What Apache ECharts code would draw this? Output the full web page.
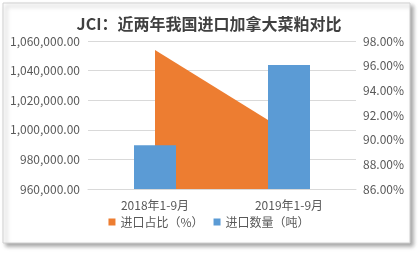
<!DOCTYPE html>
<html>
<head>
<meta charset="utf-8">
<script src="https://cdn.jsdelivr.net/npm/echarts@6/dist/echarts.min.js"></script>
<style>html,body{margin:0;padding:0;background:#fff;}#c{width:418px;height:253px;}</style>
</head>
<body>
<div id="c"></div>
<script>
var titleText = 'JCI：近两年我国进口加拿大菜粕对比';
var categories = ['2018年1-9月', '2019年1-9月'];
var shareName = '进口占比（%）';
var qtyName = '进口数量（吨）';
var shareValues = [97.27, 90.55];
var qtyValues = [989500, 1043800];
var leftTicks = [960000, 1060000, 20000];
var rightTicks = [86, 98, 2];

var chart = echarts.init(document.getElementById('c'), null, {renderer: 'canvas'});
var font = "'Noto Sans CJK SC', 'Microsoft YaHei', sans-serif";
chart.setOption({
  animation: false,
  textStyle: {fontFamily: font},
  graphic: [{
    type: 'rect', z: -10,
    shape: {x: 3, y: 3, width: 407, height: 240},
    style: {fill: '#fff', stroke: '#d0d0d0', lineWidth: 1, shadowBlur: 4, shadowOffsetX: 3, shadowOffsetY: 3, shadowColor: 'rgba(0,0,0,0.35)'}
  }],
  title: {
    text: titleText, left: 'center', top: 11,
    textStyle: {fontSize: 16, fontWeight: 'bold', color: '#404040', fontFamily: font}
  },
  legend: {
    bottom: 20, left: 'center', itemWidth: 7, itemHeight: 7, itemGap: 10, icon: 'rect',
    textStyle: {fontSize: 12, color: '#595959', fontFamily: font},
    data: [shareName, qtyName]
  },
  grid: {left: 88, right: 62, top: 41, bottom: 64},
  xAxis: {
    type: 'category', data: categories, boundaryGap: true,
    axisLine: {show: true, lineStyle: {color: '#d9d9d9'}},
    axisTick: {show: false},
    axisLabel: {fontSize: 12, color: '#595959', margin: 10, fontFamily: font}
  },
  yAxis: [{
    type: 'value', min: leftTicks[0], max: leftTicks[1], interval: leftTicks[2],
    axisLine: {show: false}, axisTick: {show: false},
    splitLine: {lineStyle: {color: '#d9d9d9'}},
    axisLabel: {fontSize: 12, color: '#595959', margin: 8, fontFamily: font,
      formatter: function (v) { return v.toLocaleString('en-US', {minimumFractionDigits: 2, maximumFractionDigits: 2}); }}
  }, {
    type: 'value', min: rightTicks[0], max: rightTicks[1], interval: rightTicks[2],
    axisLine: {show: false}, axisTick: {show: false}, splitLine: {show: false},
    axisLabel: {fontSize: 12, color: '#595959', margin: 7, fontFamily: font,
      formatter: function (v) { return v.toFixed(2) + '%'; }}
  }],
  series: [{
    name: shareName, type: 'line', yAxisIndex: 1, data: shareValues, z: 1,
    showSymbol: false, symbol: 'none', lineStyle: {width: 0, color: '#ED7D31'},
    itemStyle: {color: '#ED7D31'},
    areaStyle: {color: '#ED7D31', opacity: 1}
  }, {
    name: qtyName, type: 'bar', yAxisIndex: 0, data: qtyValues, z: 3,
    barWidth: 42, itemStyle: {color: '#5B9BD5'}
  }]
});
</script>
</body>
</html>
